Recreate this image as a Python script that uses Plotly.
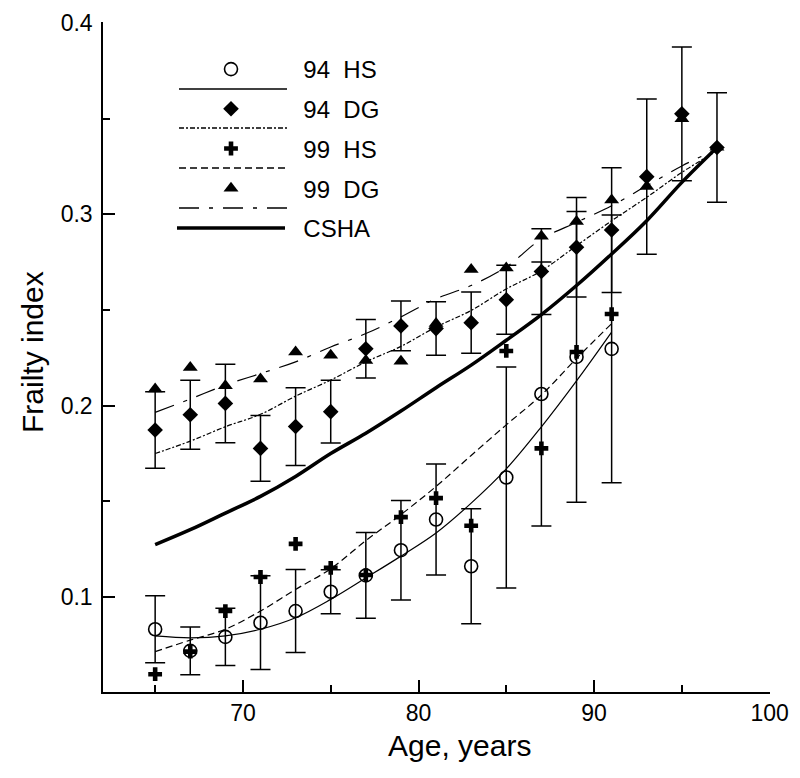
import plotly.graph_objects as go

# ---------------- data ----------------
ages_all = [65, 67, 69, 71, 73, 75, 77, 79, 81, 83, 85, 87, 89, 91, 93, 95, 97]
ages_hs = [65, 67, 69, 71, 73, 75, 77, 79, 81, 83, 85, 87, 89, 91]

hs94 = [0.0832, 0.0719, 0.0792, 0.0866, 0.0927, 0.1028, 0.1113, 0.1245, 0.1405,
        0.1161, 0.1625, 0.2061, 0.2255, 0.2297]
hs94_err = [0.0175, 0.0125, 0.0150, 0.0245, 0.0217, 0.0115, 0.0224, 0.0260, 0.0290,
            0.0300, 0.0577, 0.0690, 0.0760, 0.0700]
dg94 = [0.1873, 0.1953, 0.2012, 0.1777, 0.1891, 0.1969, 0.2298, 0.2417, 0.2403,
        0.2434, 0.2554, 0.2701, 0.2828, 0.2918, 0.3197, 0.3525, 0.3349]
dg94_err = [0.0200, 0.0180, 0.0205, 0.0172, 0.0203, 0.0164, 0.0153, 0.0130, 0.0140,
            0.0160, 0.0180, 0.0224, 0.0260, 0.0326, 0.0405, 0.0350, 0.0286]
hs99 = [0.0597, 0.0715, 0.0927, 0.1105, 0.1278, 0.1153, 0.1115, 0.1418, 0.1517,
        0.1373, 0.2286, 0.1777, 0.2281, 0.2479]
dg99 = [0.2087, 0.2200, 0.2104, 0.2139, 0.2281, 0.2264, 0.2236, 0.2232, 0.2430,
        0.2712, 0.2719, 0.2885, 0.2962, 0.3075, 0.3146, 0.3500, 0.3350]

# fitted curves
fit_hs94 = [0.0797, 0.0787, 0.0797, 0.0832, 0.0892, 0.0988, 0.1100, 0.1214, 0.1335,
            0.1491, 0.1670, 0.1890, 0.2130, 0.2385]
fit_hs99 = [0.0715, 0.0775, 0.0832, 0.0927, 0.1040, 0.1148, 0.1295, 0.1431, 0.1578,
            0.1740, 0.1900, 0.2056, 0.2247, 0.2429]
fit_dg94 = [0.1750, 0.1815, 0.1890, 0.1955, 0.2050, 0.2134, 0.2229, 0.2310, 0.2411,
            0.2498, 0.2610, 0.2705, 0.2836, 0.2966, 0.3089, 0.3219, 0.3332]
fit_dg99 = [0.1965, 0.2035, 0.2108, 0.2168, 0.2229, 0.2307, 0.2377, 0.2464, 0.2559,
            0.2628, 0.2725, 0.2871, 0.2958, 0.3045, 0.3149, 0.3253, 0.3340]
csha = [0.1274, 0.1352, 0.1439, 0.1526, 0.1630, 0.1750, 0.1856, 0.1972, 0.2094,
        0.2212, 0.2342, 0.2476, 0.2628, 0.2793, 0.2967, 0.3167, 0.3349]

x_major = [70, 80, 90, 100]
x_minor = [65, 75, 85, 95]
y_major = [0.1, 0.2, 0.3, 0.4]
y_labels = ["0.1", "0.2", "0.3", "0.4"]
y_minor = [0.15, 0.25, 0.35]

SP = "\u00a0"
names = [SP * 2 + "94" + SP * 2 + "HS", SP * 2 + "94" + SP * 2 + "DG",
         SP * 2 + "99" + SP * 2 + "HS", SP * 2 + "99" + SP * 2 + "DG", SP * 2 + "CSHA"]

FONT = "Liberation Sans, Arial, sans-serif"
BLACK = "black"

fig = go.Figure()

# fitted lines (no legend)
fig.add_trace(go.Scatter(x=ages_hs, y=fit_hs94, mode="lines", showlegend=False,
                         line=dict(color=BLACK, width=1.2, shape="spline")))
fig.add_trace(go.Scatter(x=ages_all, y=fit_dg94, mode="lines", showlegend=False,
                         line=dict(color=BLACK, width=1.2, dash="5px,2px,2px,2px", shape="spline")))
fig.add_trace(go.Scatter(x=ages_hs, y=fit_hs99, mode="lines", showlegend=False,
                         line=dict(color=BLACK, width=1.2, dash="7px,4px", shape="spline")))
fig.add_trace(go.Scatter(x=ages_all, y=fit_dg99, mode="lines", showlegend=False,
                         line=dict(color=BLACK, width=1.2, dash="20px,10px,4px,10px", shape="spline")))

# markers
err_style = dict(type="data", visible=True, color=BLACK, thickness=1.5, width=10)
fig.add_trace(go.Scatter(x=ages_hs, y=hs94, mode="markers", name=names[0], legendgroup="a",
                         marker=dict(symbol="circle-open", size=13, color=BLACK, line=dict(width=1.6, color=BLACK)),
                         error_y=dict(array=hs94_err, **err_style)))
fig.add_trace(go.Scatter(x=ages_all, y=dg94, mode="markers", name=names[1], legendgroup="b",
                         marker=dict(symbol="diamond", size=12, color=BLACK, line=dict(width=0)),
                         error_y=dict(array=dg94_err, **err_style)))
fig.add_trace(go.Scatter(x=ages_hs, y=hs99, mode="markers", name=names[2], legendgroup="c",
                         marker=dict(symbol="cross", size=11.5, color=BLACK, line=dict(width=0))))
fig.add_trace(go.Scatter(x=ages_all, y=dg99, mode="markers", name=names[3], legendgroup="d",
                         marker=dict(symbol="triangle-up", size=13, color=BLACK, line=dict(width=0))))
fig.add_trace(go.Scatter(x=ages_all, y=csha, mode="lines", name=names[4], legendgroup="e",
                         line=dict(color=BLACK, width=3.5, shape="spline")))

# legend line samples for the fitted curves
L0, L1 = 103, 770
T0, T1 = 22, 692
def px_x(p):
    return (p - L0) / (L1 - L0)
def px_y(p):
    return (T1 - p) / (T1 - T0)
samples = [(89, None), (128, "5px,2px,2px,2px"), (168, "7px,4px"), (208, "20px,10px,4px,10px")]
for yy, dsh in samples:
    ln = dict(color=BLACK, width=1.4)
    if dsh:
        ln["dash"] = dsh
    fig.add_shape(type="line", xref="paper", yref="paper",
                  x0=px_x(179), x1=px_x(287), y0=px_y(yy), y1=px_y(yy), line=ln)

fig.add_annotation(text="Age, years", xref="paper", yref="paper",
                   x=px_x(460), y=px_y(745), showarrow=False, xanchor="center", yanchor="middle",
                   font=dict(family=FONT, size=30, color=BLACK))
fig.add_annotation(text="Frailty index", xref="paper", yref="paper", textangle=-90,
                   x=px_x(32), y=px_y(352), showarrow=False, xanchor="center", yanchor="middle",
                   font=dict(family=FONT, size=30, color=BLACK))

fig.update_layout(
    width=800, height=778,
    margin=dict(l=L0, r=800 - L1, t=T0, b=778 - T1, autoexpand=False),
    paper_bgcolor="white", plot_bgcolor="white",
    font=dict(family=FONT, size=24, color=BLACK),
    showlegend=True,
    legend=dict(x=px_x(172), y=px_y(47), xanchor="left", yanchor="top",
                bgcolor="rgba(0,0,0,0)", borderwidth=0, itemwidth=108,
                traceorder="grouped", tracegroupgap=5.5, itemsizing="trace",
                font=dict(family=FONT, size=24, color=BLACK)),
    xaxis=dict(range=[62.03, 100.02], showline=True, linecolor=BLACK, linewidth=1.5,
               automargin=False,
               ticks="inside", ticklen=12, tickwidth=1.5, tickcolor=BLACK,
               tickvals=x_major, showgrid=False, zeroline=False,
               tickfont=dict(family=FONT, size=23, color=BLACK),
               minor=dict(tickvals=x_minor, ticks="inside", ticklen=7, tickwidth=1.5,
                          tickcolor=BLACK, showgrid=False)),
    yaxis=dict(range=[0.0504, 0.4005], showline=True, linecolor=BLACK, linewidth=1.5,
               automargin=False,
               ticks="inside", ticklen=12, tickwidth=1.5, tickcolor=BLACK,
               tickvals=y_major, ticktext=y_labels, showgrid=False, zeroline=False,
               ticklabelstandoff=4,
               tickfont=dict(family=FONT, size=23, color=BLACK),
               minor=dict(tickvals=y_minor, ticks="inside", ticklen=7, tickwidth=1.5,
                          tickcolor=BLACK, showgrid=False)),
)

fig.write_html("out.html", config={"displayModeBar": False},
               post_script="document.body.style.margin='0';document.body.style.padding='0';")
